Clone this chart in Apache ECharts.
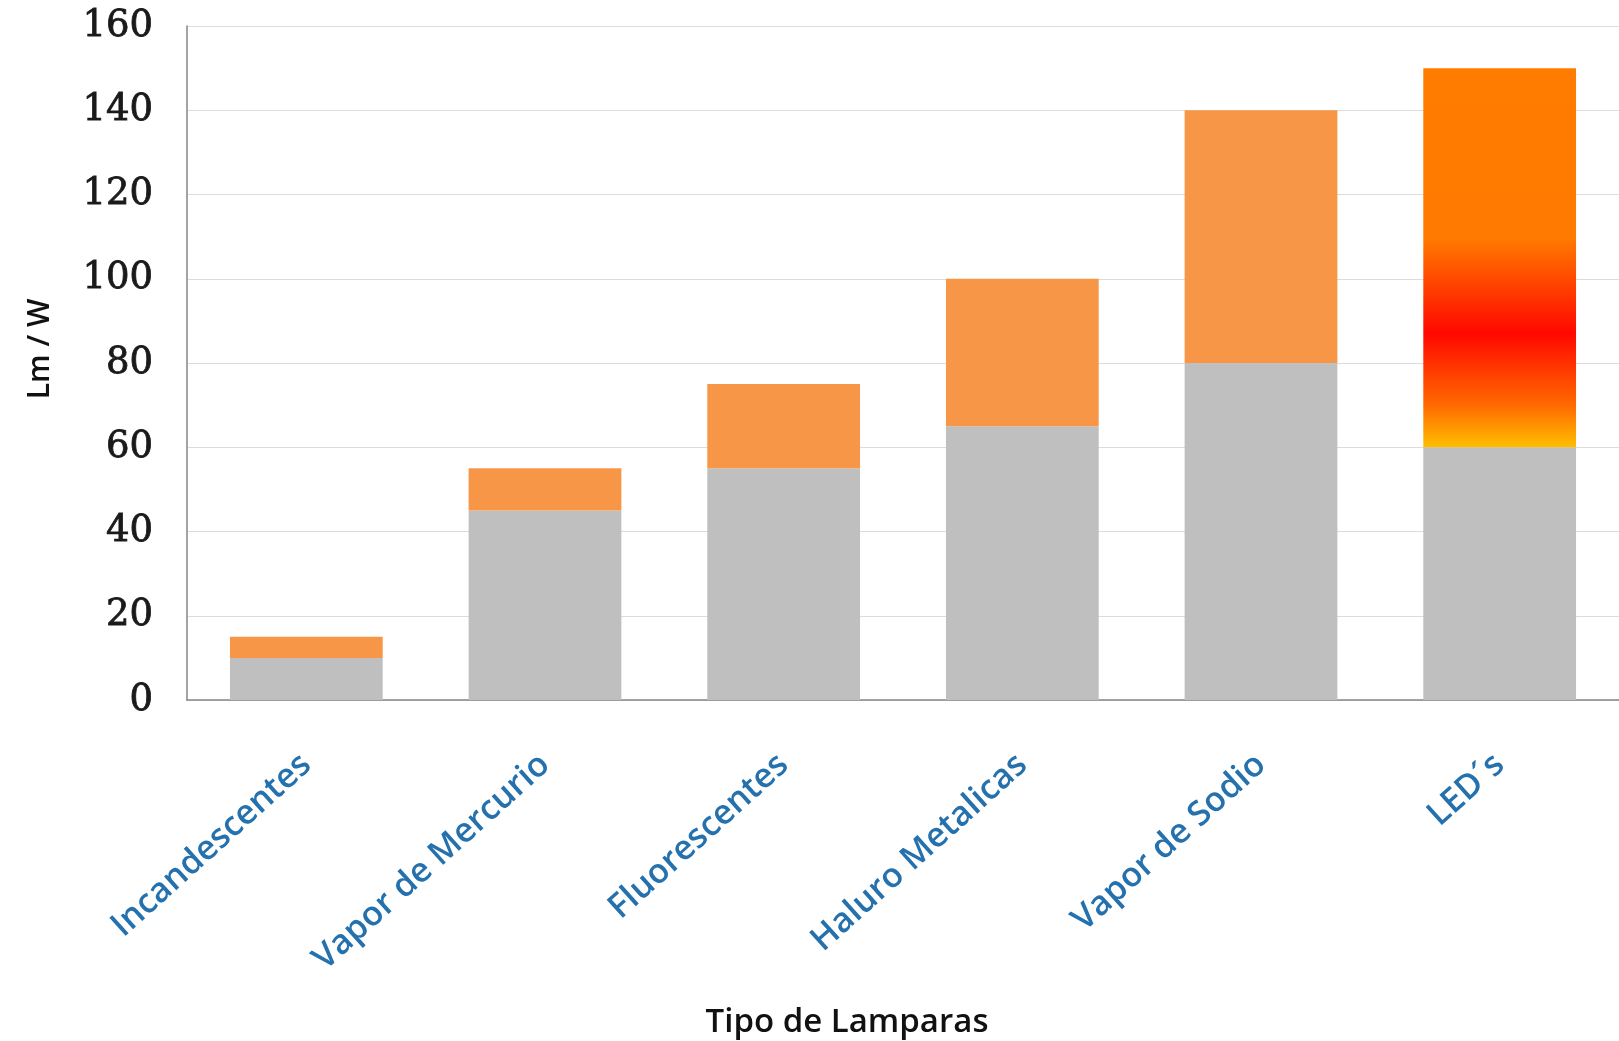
<!DOCTYPE html>
<html>
<head>
<meta charset="utf-8">
<title>Lm / W por tipo de lampara</title>
<script src="https://cdn.jsdelivr.net/npm/echarts@6/dist/echarts.min.js"></script>
<style>
  html, body { margin: 0; padding: 0; background: #fff; }
  #chart { width: 1619px; height: 1041px; }
</style>
</head>
<body>
<div id="chart"></div>
<script>
// datos
const categorias = ['Incandescentes', 'Vapor de Mercurio', 'Fluorescentes', 'Haluro Metalicas', 'Vapor de Sodio', 'LED´s'];
const valorBase = [10, 45, 55, 65, 80, 60];     // parte gris
const valorExtra = [5, 10, 20, 35, 60, 90];     // parte naranja (hasta el maximo)
const ticksY = [0, 20, 40, 60, 80, 100, 120, 140, 160];

// degradado del LED
const degradadoLed = new echarts.graphic.LinearGradient(0, 0, 0, 1, [
  { offset: 0, color: '#FF7C00' },
  { offset: 0.45, color: '#FF7A00' },
  { offset: 0.7, color: '#FF0800' },
  { offset: 0.89, color: '#FF6A00' },
  { offset: 1, color: '#FFBE00' }
]);

const datosExtra = valorExtra.map((v, i) => {
  if (i === categorias.length - 1) {
    return { value: v, itemStyle: { color: degradadoLed } };
  }
  return v;
});

let myChart = echarts.init(document.getElementById('chart'));
let options = {
  animation: false,
  grid: { left: 187, right: 0, top: 26, bottom: 341, containLabel: false, outerBoundsMode: 'none' },
  xAxis: {
    type: 'category',
    data: categorias,
    name: 'Tipo de Lamparas',
    nameLocation: 'middle',
    nameGap: 306,
    nameTextStyle: { fontFamily: 'Open Sans', fontSize: 33, fontWeight: 600, color: '#111', padding: [0, 112, 0, 0] },
    axisLine: { lineStyle: { color: '#868686', width: 1.5 } },
    axisTick: { show: false },
    axisLabel: {
      rotate: 42,
      margin: 60,
      interval: 0,
      fontFamily: 'Open Sans',
      fontSize: 34,
      fontWeight: 600,
      color: '#2471AE'
    }
  },
  yAxis: {
    type: 'value',
    min: ticksY[0],
    max: ticksY[ticksY.length - 1],
    interval: 20,
    name: 'Lm / W',
    nameLocation: 'middle',
    nameGap: 132,
    nameRotate: 90,
    nameTextStyle: { fontFamily: 'Open Sans', fontSize: 30, fontWeight: 600, color: '#111', padding: [0, 0, 0, 28] },
    axisLine: { show: true, lineStyle: { color: '#868686', width: 1.5 } },
    axisTick: { show: false },
    splitLine: { lineStyle: { color: '#DCDCDC', width: 1 } },
    axisLabel: {
      margin: 34,
      fontFamily: 'DejaVu Serif',
      fontSize: 37,
      color: '#1a1a1a',
      textBorderColor: '#1a1a1a',
      textBorderWidth: 0.8
    }
  },
  series: [
    {
      type: 'bar',
      stack: 'total',
      data: valorBase,
      barCategoryGap: '36%',
      itemStyle: { color: '#BFBFBF' }
    },
    {
      type: 'bar',
      stack: 'total',
      data: datosExtra,
      barCategoryGap: '36%',
      itemStyle: { color: '#F79646' }
    }
  ]
};
myChart.setOption(options);
</script>
</body>
</html>
